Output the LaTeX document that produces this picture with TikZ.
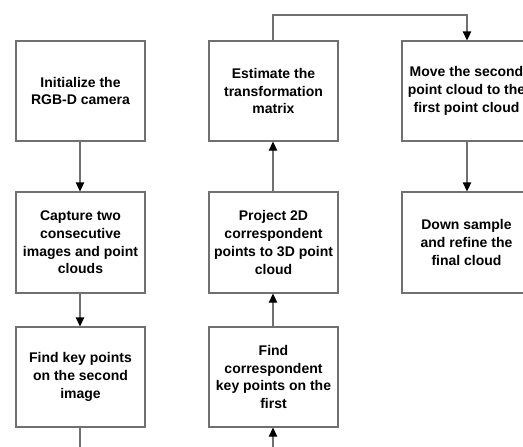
\documentclass[tikz,border=0pt]{standalone}
\usepackage{fontspec}
\setmainfont{Liberation Sans}
\usetikzlibrary{arrows.meta}
\definecolor{edge}{RGB}{112,112,112}
\begin{document}
\begin{tikzpicture}[x=1pt,y=-1pt,
  stepbox/.style={draw=edge,line width=1.3pt,fill=white,rectangle,
    minimum width=129pt,minimum height=100pt,inner sep=0pt,
    align=center,font=\fontsize{14pt}{17.7pt}\selectfont\bfseries},
  flow/.style={draw=edge,line width=1.3pt,
    -{Triangle[length=9pt,width=8.5pt,color=black]}},
  plain/.style={draw=edge,line width=1.3pt}]
\useasboundingbox (0,0) rectangle (523,447);
\clip (0,0) rectangle (523,447);

% first column
\node[stepbox] (init) at (80.5,91) {Initialize the\\RGB-D camera};
\node[stepbox,minimum height=101pt] (capture) at (80.5,242.5) {Capture two\\consecutive\\images and point\\clouds};
\node[stepbox] (keys) at (80.5,377) {Find key points\\on the second\\image};

% second column
\node[stepbox] (estimate) at (273.5,91) {Estimate the\\transformation\\matrix};
\node[stepbox,minimum height=101pt] (project) at (273.5,242.5) {Project 2D\\correspondent\\points to 3D point\\cloud};
\node[stepbox] (corr) at (273.5,377) {Find\\correspondent\\key points on the\\first};

% third column
\node[stepbox] (move) at (466.5,91) {Move the second\\point cloud to the\\first point cloud};
\node[stepbox,minimum height=101pt] (down) at (466.5,242.5) {Down sample\\and refine the\\final cloud};

% connectors
\coordinate (keysout) at (80,460);
\coordinate (corrin) at (273,460);
\draw[flow] (init.south -| 80,0) -- (capture.north -| 80,0);
\draw[flow] (capture.south -| 80,0) -- (keys.north -| 80,0);
\draw[plain] (keys.south -| 80,0) -- (keysout);
\draw[flow] (corrin) -- (corr.south -| 273,0);
\draw[flow] (corr.north -| 273,0) -- (project.south -| 273,0);
\draw[flow] (project.north -| 273,0) -- (estimate.south -| 273,0);
\draw[flow] (estimate.north -| 273,0) -- (273,15) -- (467,15) -- (move.north -| 467,0);
\draw[flow] (move.south -| 467,0) -- (down.north -| 467,0);
\end{tikzpicture}
\end{document}
